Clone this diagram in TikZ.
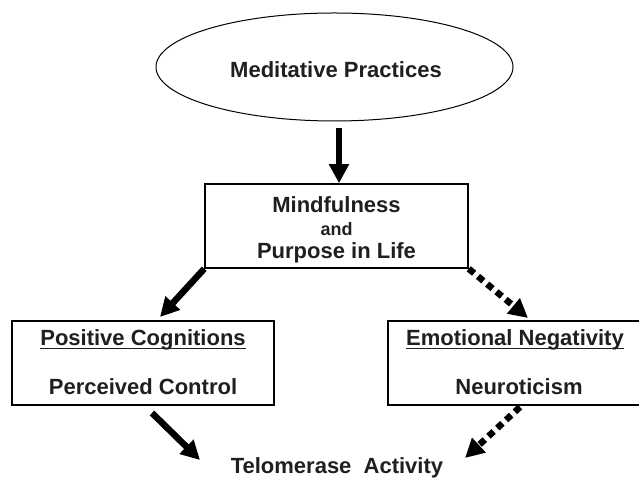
\documentclass[tikz,border=0pt]{standalone}
\usepackage{fontspec}
\setmainfont{Liberation Sans}
\usetikzlibrary{arrows.meta,shapes.geometric}
\begin{document}
\begin{tikzpicture}[x=1pt,y=1pt,
  lbl/.style={font=\fontsize{22}{24}\selectfont\bfseries, text=black!88, inner sep=0pt},
  small/.style={font=\fontsize{18}{20}\selectfont\bfseries, text=black!88, inner sep=0pt},
  boxed/.style={draw, line width=1.5pt, inner sep=0pt},
  uline/.style={line width=1.2pt, black!88},
  bigarrow/.style={line width=6.5pt, -{Triangle[length=19pt,width=19pt]}},
  dotarrow/.style={line width=6.5pt, dash pattern=on 7pt off 5pt, -{Triangle[length=19pt,width=19pt]}}]
\clip (0,0) rectangle (639,484);
\useasboundingbox (0,0) rectangle (639,484);
% ellipse
\node[draw, line width=1pt, ellipse, minimum width=357pt, minimum height=108pt, inner sep=0pt] (med) at (334.5,417) {};
\node[lbl] (medt) at (336,414) {Meditative Practices};
% middle box
\node[boxed, minimum width=263pt, minimum height=84pt] (mid) at (336.5,258) {};
\node[lbl] (m1) at (336.5,279) {Mindfulness};
\node[small] (m2) at (336.5,255) {and};
\node[lbl] (m3) at (336.5,231) {Purpose in Life};
% left box
\node[boxed, minimum width=262pt, minimum height=84pt] (lb) at (143,121) {};
\node[lbl] (l1) at (143,144) {Positive Cognitions};
\node[lbl] (l2) at (143,97) {Perceived Control};
\draw[uline] ([yshift=-2.6pt]l1.base west) -- ([yshift=-2.6pt]l1.base east);
% right box
\node[boxed, minimum width=262pt, minimum height=84pt] (rb) at (519,121) {};
\node[lbl] (r1) at (515,144) {Emotional Negativity};
\node[lbl] (r2) at (519,97) {Neuroticism};
\draw[uline] ([yshift=-2.6pt]r1.base west) -- ([yshift=-2.6pt]r1.base east);
% outcome
\node[lbl] (tel) at (337,16) {Telomerase\ \ Activity};
% connectors
\coordinate (vstart) at (339,356);
\coordinate (ltip) at (160,167);
\coordinate (rtip) at (528,166);
\coordinate (lstart) at (152,71);
\coordinate (ltel) at (200,24);
\coordinate (rstart) at (520,77);
\coordinate (rtel) at (465,26);
\draw[bigarrow] (vstart) -- (mid.north -| vstart);
\draw[bigarrow] (mid.south west) -- (ltip);
\draw[dotarrow] (mid.south east) -- (rtip);
\draw[bigarrow] (lstart) -- (ltel);
\draw[dotarrow] (rstart) -- (rtel);
\end{tikzpicture}
\end{document}
